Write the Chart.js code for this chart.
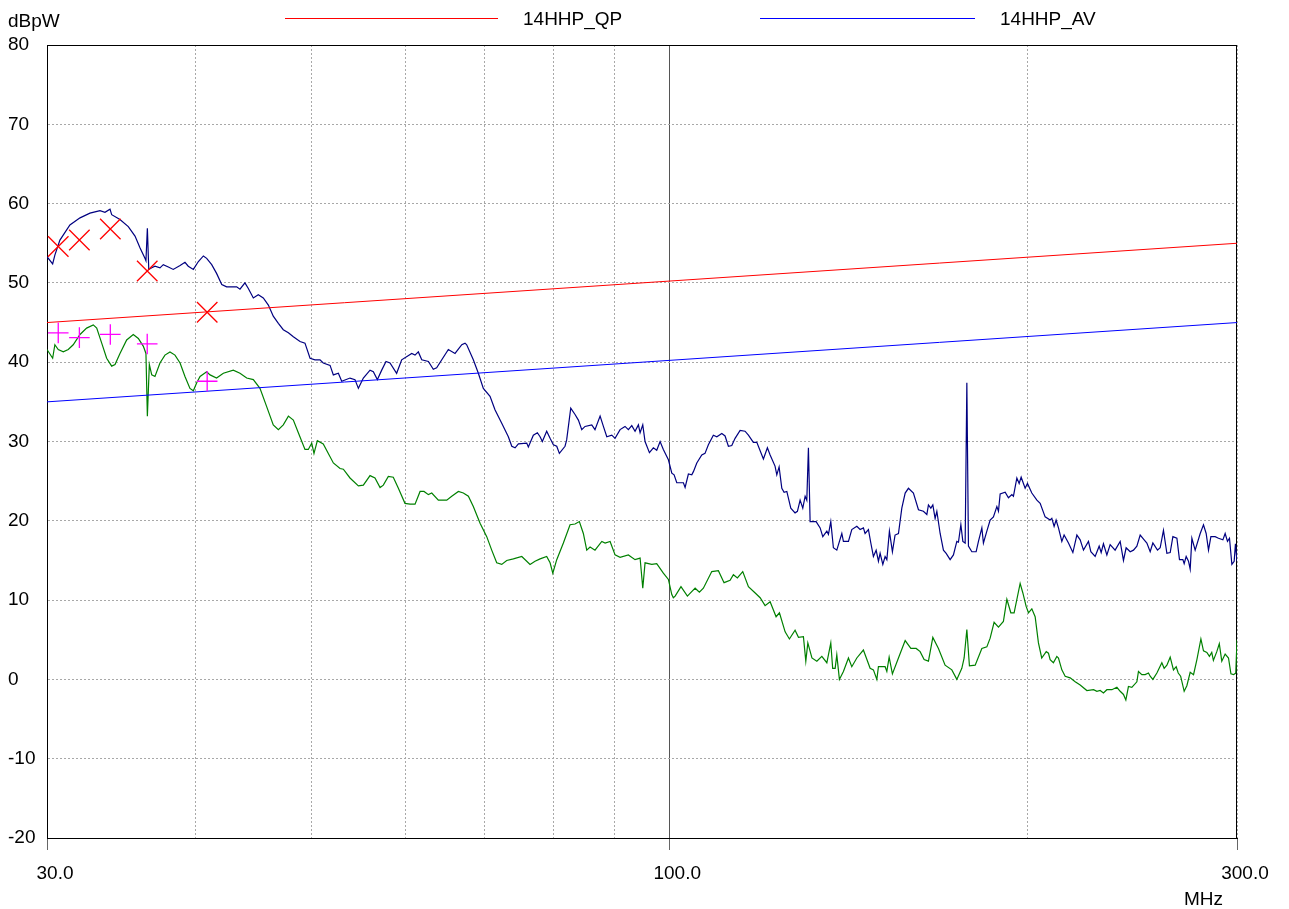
<!DOCTYPE html>
<html>
<head>
<meta charset="utf-8">
<title>14HHP scan</title>
<script src="https://cdn.jsdelivr.net/npm/chart.js@4.4.1/dist/chart.umd.min.js"></script>
<style>
  html, body { margin: 0; padding: 0; background: #fff; }
  #wrap { width: 1289px; height: 909px; }
</style>
</head>
<body>
<div id="wrap"><canvas id="myChart" width="1289" height="909"></canvas></div>
<script>
// frequency axis (MHz), log scale
var xTickValues = [30, 40, 50, 60, 70, 80, 90, 100, 200, 300];
var xTickLabels = { 30: '30.0', 100: '100.0', 300: '300.0' };

// limit lines
var limitFreq = [30, 300];
var qpLimit = [45, 55];
var avLimit = [35, 45];

// final measurement points
var finalFreq = [30.66, 31.94, 33.91, 36.42, 40.9];
var qpLevel = [54.6, 55.4, 56.8, 51.5, 46.3];
var avLevel = [43.7, 43.1, 43.5, 42.3, 37.6];

// peak trace (navy)
var peakFreq = [30.0, 30.33, 30.46, 30.76, 31.36, 31.98, 32.60, 33.24, 33.56, 33.89,
  34.0, 34.55, 35.11, 35.57, 35.92, 36.26, 36.33, 36.43, 36.53, 36.74,
  36.97, 37.33, 37.57, 37.94, 38.30, 38.81, 39.18, 39.43, 39.82, 40.21,
  40.60, 40.86, 41.26, 41.65, 42.07, 42.47, 43.30, 43.58, 44.0, 44.29,
  44.72, 45.15, 45.59, 46.04, 46.48, 46.94, 47.39, 47.86, 48.32, 48.95,
  49.42, 49.91, 50.39, 50.88, 51.2, 51.88, 52.21, 52.72, 53.06, 53.92,
  54.44, 54.80, 55.33, 56.05, 56.41, 56.85, 57.33, 57.81, 58.26, 59.01,
  59.59, 60.76, 61.15, 61.54, 61.95, 62.75, 63.35, 63.76, 65.22, 66.07,
  66.94, 67.36, 67.58, 68.45, 69.12, 69.79, 70.70, 71.38, 72.32, 73.25,
  73.74, 74.21, 74.69, 75.90, 76.14, 76.88, 77.48, 77.89, 78.23, 78.89,
  79.41, 79.92, 80.44, 80.85, 81.74, 82.0, 82.65, 83.34, 83.88, 84.43,
  84.97, 86.08, 86.62, 87.48, 88.04, 88.62, 89.48, 90.05, 90.93, 91.80,
  92.40, 93.01, 93.60, 94.21, 94.52, 95.01, 95.43, 96.24, 96.98, 97.61,
  98.25, 98.87, 99.53, 99.84, 100.5, 100.95, 101.47, 102.78, 103.12, 103.78,
  104.46, 104.79, 105.48, 106.5, 107.17, 107.87, 108.91, 109.65, 110.71, 111.41,
  112.13, 112.87, 113.59, 114.70, 115.80, 116.56, 117.68, 118.47, 119.99, 120.92,
  121.56, 122.72, 123.14, 123.69, 124.34, 124.89, 125.55, 126.52, 127.57, 128.15,
  128.82, 129.49, 130.08, 130.50, 130.91, 131.34, 132.88, 133.91, 134.6, 135.66,
  136.08, 136.7, 137.39, 138.3, 139.65, 140.08, 141.45, 142.37, 143.76, 144.68,
  145.6, 146.08, 147.03, 147.71, 148.45, 149.24, 149.9, 150.39, 151.18, 151.85,
  152.36, 153.12, 154.01, 154.8, 155.82, 156.84, 157.86, 158.86, 160.4, 161.97,
  163.53, 164.62, 165.13, 165.9, 166.54, 167.28, 167.84, 168.91, 169.99, 170.89,
  172.21, 173.31, 174.46, 175.0, 175.82, 176.5, 177.29, 177.87, 178.42, 179.6,
  181.1, 181.91, 183.11, 183.67, 184.89, 186.07, 187.26, 188.5, 189.09, 189.71,
  191.56, 192.78, 194.05, 194.65, 195.94, 196.82, 197.58, 199.11, 200.0, 201.7,
  203.68, 204.98, 206.96, 208.98, 209.66, 210.59, 211.4, 212.37, 213.76, 214.7,
  216.52, 218.37, 220.07, 221.48, 222.9, 225.06, 226.1, 227.99, 229.77, 230.66,
  231.68, 233.22, 234.71, 236.97, 239.3, 240.83, 242.08, 243.98, 245.54, 247.16,
  248.75, 250.67, 251.99, 253.61, 254.93, 257.22, 258.56, 260.21, 261.94, 263.62,
  265.0, 267.06, 268.4, 270.17, 270.85, 271.9, 273.12, 274.02, 274.92, 276.67,
  279.38, 281.16, 282.62, 283.9, 285.22, 287.58, 289.45, 291.91, 293.2, 294.53,
  295.67, 297.04, 298.36, 299.1, 300];
var peakLevel = [53.3, 52.4, 53.5, 55.4, 57.3, 58.2, 58.8, 59.1, 58.9, 59.3,
  58.6, 58.0, 57.1, 55.9, 54.4, 53.1, 52.8, 56.9, 51.7, 51.9,
  52.1, 51.9, 52.3, 52.0, 51.7, 52.2, 52.6, 52.1, 51.7, 52.7,
  53.4, 53.1, 52.3, 51.2, 49.8, 49.5, 49.5, 49.2, 50.0, 49.3,
  48.1, 48.5, 48.1, 47.2, 45.8, 44.9, 44.1, 43.7, 43.2, 42.6,
  42.4, 40.5, 40.3, 40.3, 39.9, 39.6, 38.4, 38.6, 37.6, 38.0,
  37.8, 36.7, 38.0, 39.0, 38.8, 37.8, 39.0, 40.1, 39.9, 38.6,
  40.3, 41.1, 40.9, 41.3, 40.3, 40.1, 39.1, 39.3, 41.6, 41.1,
  42.2, 42.4, 42.2, 40.3, 38.6, 36.7, 35.7, 34.0, 32.3, 30.6,
  29.4, 29.2, 29.7, 29.8, 29.3, 30.8, 31.1, 30.6, 30.0, 31.3,
  30.4, 29.6, 29.4, 28.5, 29.4, 30.2, 34.2, 33.4, 32.7, 31.5,
  31.9, 32.1, 31.5, 33.2, 31.9, 30.6, 30.8, 30.4, 31.5, 31.9,
  31.5, 32.0, 31.3, 32.1, 31.1, 32.1, 30.0, 28.6, 29.2, 28.9,
  30.0, 29.0, 28.1, 27.7, 26.0, 25.8, 24.8, 24.8, 24.2, 25.9,
  25.8, 26.2, 27.3, 28.3, 28.5, 29.6, 30.8, 30.6, 31.0, 30.7,
  29.4, 29.5, 30.4, 31.4, 31.3, 30.8, 29.9, 29.9, 27.8, 29.2,
  28.3, 26.9, 25.8, 26.8, 24.1, 23.6, 23.7, 21.6, 21.0, 21.2,
  22.6, 21.6, 23.1, 22.6, 29.2, 19.9, 19.9, 19.1, 18.0, 18.7,
  18.3, 19.9, 16.6, 16.3, 18.4, 17.4, 17.4, 18.9, 19.3, 18.9,
  19.1, 18.4, 18.9, 17.2, 15.5, 16.3, 14.9, 15.9, 14.5, 15.5,
  15.1, 18.7, 16.1, 18.2, 18.4, 21.6, 23.5, 24.1, 23.5, 21.4,
  21.2, 20.8, 22.0, 21.6, 22.0, 20.3, 21.2, 18.4, 16.3, 15.9,
  15.1, 15.7, 17.4, 17.3, 19.5, 17.4, 17.2, 37.4, 16.8, 16.1,
  16.1, 17.4, 19.1, 17.2, 18.7, 20.1, 20.5, 21.8, 21.2, 23.4,
  23.6, 22.9, 23.3, 23.1, 25.4, 24.7, 25.5, 24.1, 24.7, 23.5,
  22.6, 22.2, 20.5, 20.1, 20.3, 19.3, 20.1, 19.1, 17.4, 18.2,
  17.2, 16.0, 18.2, 17.6, 16.3, 17.4, 16.1, 15.5, 16.8, 16.0,
  17.1, 15.7, 17.0, 16.3, 17.4, 15.0, 16.6, 16.1, 16.3, 16.8,
  18.2, 17.6, 17.2, 16.1, 17.2, 16.3, 16.6, 18.8, 15.9, 16.0,
  18.0, 17.8, 15.1, 15.1, 14.6, 15.5, 14.9, 13.9, 17.8, 16.3,
  18.4, 19.5, 18.4, 16.3, 18.0, 18.0, 17.8, 17.6, 18.4, 17.4,
  17.8, 14.5, 14.9, 17.1, 14.9];

// average trace (green)
var avgFreq = [30.0, 30.33, 30.46, 30.66, 30.96, 31.26, 31.56, 31.98, 32.39, 32.81,
  33.03, 33.35, 33.67, 34.0, 34.22, 34.55, 35.0, 35.45, 35.80, 36.15,
  36.33, 36.43, 36.57, 36.74, 36.97, 37.33, 37.69, 38.06, 38.43, 38.81,
  39.18, 39.56, 39.82, 40.08, 40.34, 40.86, 41.13, 41.65, 42.2, 43.02,
  43.58, 44.15, 44.72, 45.30, 45.89, 46.48, 46.94, 47.39, 47.86, 48.32,
  48.79, 49.42, 49.74, 50.07, 50.29, 50.62, 51.2, 52.21, 52.89, 53.23,
  53.92, 54.80, 55.33, 56.05, 56.59, 57.15, 57.51, 58.07, 58.63, 59.21,
  59.97, 60.56, 61.15, 61.75, 62.22, 62.75, 63.16, 63.97, 65.02, 65.65,
  66.50, 67.14, 67.80, 68.45, 69.35, 70.25, 70.93, 71.62, 72.32, 73.02,
  73.96, 75.18, 76.39, 77.13, 77.89, 78.89, 79.41, 79.83, 80.44, 81.48,
  82.54, 83.34, 84.04, 84.69, 85.25, 85.8, 86.62, 87.77, 88.33, 89.19,
  90.05, 90.93, 92.40, 93.60, 94.52, 95.01, 95.43, 96.68, 97.61, 98.87,
  99.84, 100.5, 100.8, 101.15, 102.3, 103.58, 105.14, 106.01, 106.83, 108.58,
  109.98, 111.19, 112.50, 113.22, 114.1, 115.29, 116.56, 118.1, 119.23, 120.38,
  121.56, 122.97, 123.77, 125.14, 126.18, 127.57, 128.41, 129.65, 130.25, 130.76,
  131.8, 133.06, 134.35, 135.66, 136.7, 137.2, 137.86, 138.3, 139.0, 140.08,
  141.45, 142.37, 143.76, 145.6, 147.51, 148.45, 149.44, 149.9, 151.85, 152.36,
  153.04, 154.01, 155.82, 157.86, 159.6, 161.25, 162.5, 163.75, 165.13, 166.54,
  168.36, 170.54, 172.78, 174.46, 176.15, 176.94, 177.87, 178.76, 180.76, 183.11,
  184.89, 186.07, 187.5, 189.09, 190.9, 192.19, 193.67, 194.9, 197.19, 198.23,
  199.5, 200.39, 201.7, 203.0, 204.3, 205.6, 207.4, 208.3, 208.98, 210.3,
  211.7, 212.37, 213.76, 215.14, 217.23, 219.35, 221.48, 224.37, 227.3, 228.75,
  230.21, 231.68, 233.22, 235.5, 237.78, 239.3, 240.83, 241.94, 243.16, 244.76,
  247.16, 247.92, 249.55, 251.16, 252.77, 253.61, 254.93, 256.92, 259.4, 260.56,
  261.94, 263.62, 265.3, 266.7, 267.75, 269.0, 270.85, 272.26, 274.02, 275.8,
  277.6, 279.76, 281.16, 283.0, 284.4, 285.7, 286.6, 288.5, 289.9, 291.3,
  293.2, 295.1, 296.5, 298.0, 299.3, 300];
var avgLevel = [41.6, 40.5, 42.2, 41.6, 41.3, 41.6, 42.2, 43.5, 44.3, 44.7,
  44.3, 42.4, 40.5, 39.5, 39.7, 41.1, 42.8, 43.5, 43.0, 42.0,
  41.1, 33.2, 39.7, 38.4, 38.2, 39.9, 40.9, 41.3, 40.9, 39.9,
  38.2, 36.7, 36.4, 37.4, 38.2, 38.8, 38.4, 38.0, 38.6, 39.0,
  38.6, 38.0, 37.8, 36.7, 34.4, 32.1, 31.5, 32.1, 33.2, 32.7,
  31.1, 29.0, 29.0, 29.8, 28.5, 30.1, 29.7, 27.3, 26.6, 26.5,
  25.4, 24.4, 24.5, 25.7, 25.4, 24.2, 24.5, 25.6, 25.5, 24.1,
  22.2, 22.1, 22.1, 23.7, 23.7, 23.3, 23.5, 22.6, 22.6, 23.1,
  23.7, 23.5, 23.1, 21.8, 19.7, 18.0, 16.3, 14.7, 14.5, 15.0,
  15.2, 15.5, 14.5, 14.9, 15.2, 15.5, 14.7, 13.4, 15.1, 17.2,
  19.5, 19.6, 19.9, 18.4, 16.3, 16.7, 16.3, 17.4, 17.2, 17.4,
  15.7, 15.4, 15.7, 15.1, 15.3, 11.5, 14.7, 14.5, 14.6, 13.4,
  12.6, 10.7, 10.3, 10.5, 11.7, 10.5, 11.5, 11.0, 11.5, 13.6,
  13.7, 12.2, 12.5, 13.2, 12.8, 13.6, 11.7, 10.9, 10.3, 9.3,
  9.8, 7.9, 8.4, 6.0, 5.1, 6.2, 5.3, 5.4, 2.3, 4.6,
  2.7, 2.3, 2.9, 2.1, 4.6, 1.4, 1.4, 3.1, 0.0, 1.0,
  2.7, 1.6, 2.7, 3.7, 1.4, 1.2, 0.0, 1.6, 1.6, 1.0,
  2.8, 0.7, 2.7, 4.9, 3.9, 3.9, 3.5, 2.5, 2.3, 5.3,
  3.9, 1.8, 1.2, 0.0, 1.4, 2.7, 6.3, 1.7, 1.8, 3.9,
  4.1, 5.2, 7.2, 6.6, 7.3, 10.1, 8.4, 8.4, 12.1, 10.9,
  9.2, 8.4, 8.9, 7.9, 4.6, 2.7, 3.5, 3.3, 2.5, 2.1,
  2.9, 2.7, 1.2, 0.4, 0.2, -0.3, -0.7, -1.4, -1.3, -1.5,
  -1.4, -1.7, -1.3, -1.3, -1.0, -1.5, -1.9, -2.6, -0.9, -1.0,
  -0.3, 1.0, 0.6, 0.6, 0.8, 0.4, 0.0, 0.8, 2.1, 1.4,
  1.8, 2.8, 1.2, 1.6, 0.8, 0.4, -1.5, -0.8, 0.9, 0.6,
  2.5, 5.1, 3.6, 3.4, 2.9, 3.4, 2.4, 3.5, 4.5, 2.3,
  3.2, 2.7, 0.7, 0.6, 0.8, 5.0];

var yMin = -20;
var yMax = 80;
var yStep = 10;

var FONT = '"Liberation Sans", Arial, sans-serif';

function toPoints(xs, ys) {
    return xs.map(function (x, i) { return { x: x, y: ys[i] }; });
}

// frame, axis unit labels and the two-entry legend at the top
var decorPlugin = {
    id: 'decor',
    beforeDatasetsDraw: function (chart) {
        var a = chart.chartArea;
        var ctx = chart.ctx;
        ctx.save();
        ctx.strokeStyle = '#000';
        ctx.lineWidth = 1;
        ctx.strokeRect(Math.round(a.left) + 0.5, Math.round(a.top) + 0.5,
            Math.round(a.right - a.left) - 1, Math.round(a.bottom - a.top));
        ctx.restore();
    },
    afterDraw: function (chart) {
        var ctx = chart.ctx;
        var ds = chart.data.datasets;
        ctx.save();
        ctx.font = '19px ' + FONT;
        ctx.fillStyle = '#000';
        ctx.textBaseline = 'alphabetic';
        ctx.textAlign = 'left';
        ctx.fillText('dBpW', 8, 27);
        ctx.fillText('MHz', 1184, 905);

        var items = [
            { ds: ds[2], x0: 285, x1: 498, tx: 523 },
            { ds: ds[3], x0: 760, x1: 975, tx: 1000 }
        ];
        items.forEach(function (it) {
            ctx.strokeStyle = it.ds.borderColor;
            ctx.lineWidth = 1;
            ctx.beginPath();
            ctx.moveTo(it.x0, 18.5);
            ctx.lineTo(it.x1, 18.5);
            ctx.stroke();
            ctx.fillText(it.ds.label, it.tx, 25);
        });
        ctx.restore();
    }
};

function generateChart() {
    var ctx = document.getElementById('myChart').getContext('2d');

    window.myScanChart = new Chart(ctx, {
        type: 'scatter',
        data: {
            datasets: [
                {
                    label: 'QP final',
                    data: toPoints(finalFreq, qpLevel),
                    showLine: false,
                    pointStyle: 'crossRot',
                    pointRadius: 14.5,
                    pointBorderWidth: 1.3,
                    borderColor: '#ff0000',
                    backgroundColor: '#ff0000',
                    pointBorderColor: '#ff0000',
                    pointBackgroundColor: '#ff0000'
                },
                {
                    label: 'AV final',
                    data: toPoints(finalFreq, avLevel),
                    showLine: false,
                    pointStyle: 'cross',
                    pointRadius: 10.3,
                    pointBorderWidth: 1.3,
                    borderColor: '#ff00ff',
                    backgroundColor: '#ff00ff',
                    pointBorderColor: '#ff00ff',
                    pointBackgroundColor: '#ff00ff'
                },
                {
                    label: '14HHP_QP',
                    data: toPoints(limitFreq, qpLimit),
                    showLine: true,
                    borderColor: '#ff0000',
                    borderWidth: 1,
                    pointRadius: 0
                },
                {
                    label: '14HHP_AV',
                    data: toPoints(limitFreq, avLimit),
                    showLine: true,
                    borderColor: '#0000ff',
                    borderWidth: 1,
                    pointRadius: 0
                },
                {
                    label: 'Peak',
                    data: toPoints(peakFreq, peakLevel),
                    showLine: true,
                    borderColor: '#000080',
                    borderWidth: 1.2,
                    pointRadius: 0,
                    tension: 0
                },
                {
                    label: 'Average',
                    data: toPoints(avgFreq, avgLevel),
                    showLine: true,
                    borderColor: '#008000',
                    borderWidth: 1.2,
                    pointRadius: 0,
                    tension: 0
                }
            ]
        },
        options: {
            responsive: false,
            animation: false,
            events: [],
            devicePixelRatio: 1,
            layout: {
                padding: { left: 8, right: 52, top: 45, bottom: 0 }
            },
            plugins: {
                legend: { display: false },
                tooltip: { enabled: false }
            },
            scales: {
                x: {
                    type: 'logarithmic',
                    min: 30,
                    max: 300,
                    afterBuildTicks: function (scale) {
                        scale.ticks = xTickValues.map(function (v) { return { value: v }; });
                    },
                    afterFit: function (scale) {
                        scale.height = 71;
                    },
                    ticks: {
                        autoSkip: false,
                        maxRotation: 0,
                        minRotation: 0,
                        padding: 12,
                        labelOffset: 8,
                        color: '#000',
                        font: { family: FONT, size: 19 },
                        callback: function (value) {
                            return xTickLabels[value] || '';
                        }
                    },
                    grid: {
                        lineWidth: 1,
                        tickLength: 12,
                        color: function (c) {
                            return c.tick && c.tick.value === 100 ? '#555555' : '#a8a8a8';
                        },
                        tickColor: function (c) {
                            return c.tick && xTickLabels[c.tick.value] ? '#666666' : 'rgba(0,0,0,0)';
                        }
                    },
                    border: {
                        display: true,
                        color: '#000',
                        dash: function (c) {
                            if (c.type !== 'tick' || !c.tick) return [];
                            return c.tick.value === 100 ? [] : [2, 2];
                        }
                    }
                },
                y: {
                    type: 'linear',
                    min: yMin,
                    max: yMax,
                    afterFit: function (scale) {
                        scale.width = 39;
                    },
                    ticks: {
                        stepSize: yStep,
                        crossAlign: 'far',
                        color: '#000',
                        font: { family: FONT, size: 19 }
                    },
                    grid: {
                        drawTicks: false,
                        lineWidth: 1,
                        color: '#a8a8a8'
                    },
                    border: {
                        display: true,
                        color: '#000',
                        dash: function (c) {
                            return (c.type === 'tick' && c.tick) ? [2, 2] : [];
                        }
                    }
                }
            }
        },
        plugins: [decorPlugin]
    });
}

document.addEventListener('DOMContentLoaded', generateChart);
</script>
</body>
</html>
